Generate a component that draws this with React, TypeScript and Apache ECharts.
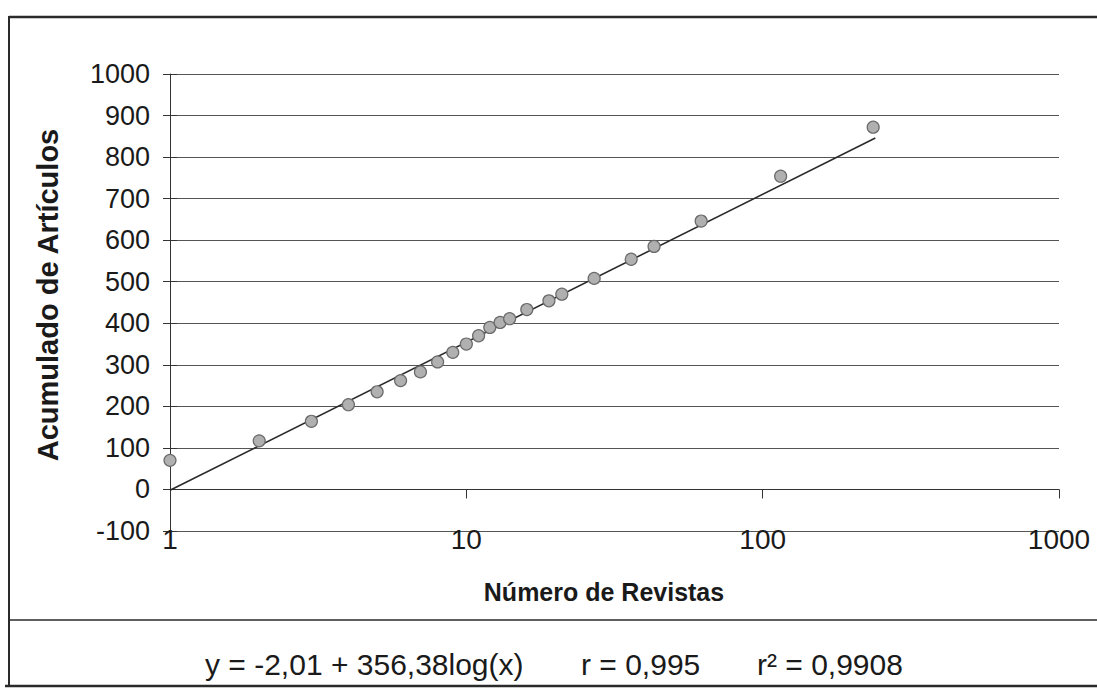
import React, { useEffect, useRef } from "react";
import * as echarts from "echarts";

const revistas = [1, 2, 3, 4, 5, 6, 7, 8, 9, 10, 11, 12, 13, 14, 16, 19, 21, 27, 36, 43, 62, 115, 236];
const articulos = [70, 117, 164, 204, 235, 262, 283, 307, 330, 350, 370, 390, 402, 411, 433, 454, 470, 508, 554, 585, 646, 754, 872];
const trendX = [1, 240];
const trendY = [-2, 846];
const yTicks = { min: -100, max: 1000, interval: 100 };
const xRange = { min: 1, max: 1000 };
const equationText = "y = -2,01 + 356,38log(x)";
const rText = "r = 0,995";
const r2Text = "r² = 0,9908";
const yTitle = "Acumulado de Artículos";
const xTitle = "Número de Revistas";

const FONT = "'Liberation Sans', Arial, sans-serif";

export default function App() {
  const ref = useRef<HTMLDivElement>(null);
  useEffect(() => {
    if (!ref.current) return;
    const chart = echarts.init(ref.current, undefined, { renderer: "svg" });
    const scatterData = revistas.map((x, i) => [x, articulos[i]]);
    const trendData = trendX.map((x, i) => [x, trendY[i]]);
    chart.setOption({
      animation: false,
      backgroundColor: "#ffffff",
      grid: { left: 170, right: 38, top: 74, bottom: 166 },
      xAxis: [
        {
          type: "log",
          logBase: 10,
          min: xRange.min,
          max: xRange.max,
          position: "bottom",
          axisLine: { show: false, onZero: false },
          axisTick: { show: false },
          splitLine: { show: false },
          minorTick: { show: false },
          axisLabel: {
            show: true,
            margin: -6,
            fontSize: 28,
            fontFamily: FONT,
            color: "#1a1a1a",
            formatter: (v: number) => String(Math.round(v)),
          },
        },
        {
          type: "log",
          logBase: 10,
          min: xRange.min,
          max: xRange.max,
          position: "top",
          axisLine: { show: true, onZero: true, onZeroAxisIndex: 0, lineStyle: { color: "#333", width: 1 } },
          axisTick: { show: true, inside: true, length: 9, lineStyle: { color: "#333", width: 1 } },
          axisLabel: { show: false },
          splitLine: { show: false },
        },
      ],
      yAxis: [
        {
          type: "value",
          min: yTicks.min,
          max: yTicks.max,
          interval: yTicks.interval,
          axisLine: { show: true, onZero: false, lineStyle: { color: "#333", width: 1 } },
          axisTick: { show: true, length: 7, lineStyle: { color: "#333" } },
          splitLine: { show: true, lineStyle: { color: "#555", width: 1 } },
          axisLabel: {
            margin: 20,
            fontSize: 27,
            fontFamily: FONT,
            color: "#1a1a1a",
            formatter: (v: number) => String(v),
          },
        },
        {
          type: "value",
          min: yTicks.min,
          max: yTicks.max,
          interval: yTicks.interval,
          position: "left",
          offset: 0,
          axisLine: { show: false, onZero: false },
          axisTick: { show: true, inside: true, length: 7, lineStyle: { color: "#333" } },
          splitLine: { show: false },
          axisLabel: { show: false },
        },
      ],
      series: [
        {
          type: "line",
          data: trendData,
          xAxisIndex: 0,
          yAxisIndex: 0,
          showSymbol: false,
          symbol: "none",
          lineStyle: { color: "#2a2a2a", width: 1.6 },
          z: 3,
        },
        {
          type: "scatter",
          data: scatterData,
          xAxisIndex: 0,
          yAxisIndex: 0,
          symbol: "circle",
          symbolSize: 12,
          itemStyle: { color: "#b0b0b0", borderColor: "#6a6a6a", borderWidth: 1.2, opacity: 1 },
          z: 4,
        },
      ],
      graphic: [
        {
          type: "text",
          x: 48,
          y: 295,
          rotation: Math.PI / 2,
          style: {
            text: yTitle,
            fontSize: 29,
            fontWeight: "bold",
            fontFamily: FONT,
            fill: "#1a1a1a",
            textAlign: "center",
            textVerticalAlign: "middle",
          },
        },
        {
          type: "text",
          x: 604,
          y: 592,
          style: {
            text: xTitle,
            fontSize: 25,
            fontWeight: "bold",
            fontFamily: FONT,
            fill: "#1a1a1a",
            textAlign: "center",
            textVerticalAlign: "middle",
          },
        },
        {
          type: "text",
          x: 205,
          y: 664,
          style: { text: equationText, fontSize: 30, fontFamily: FONT, fill: "#1a1a1a", textVerticalAlign: "middle" },
        },
        {
          type: "text",
          x: 581,
          y: 664,
          style: { text: rText, fontSize: 30, fontFamily: FONT, fill: "#1a1a1a", textVerticalAlign: "middle" },
        },
        {
          type: "text",
          x: 757,
          y: 664,
          style: { text: r2Text, fontSize: 30, fontFamily: FONT, fill: "#1a1a1a", textVerticalAlign: "middle" },
        },
        { type: "line", shape: { x1: 9, y1: 17, x2: 1097, y2: 17 }, style: { stroke: "#2a2a2a", lineWidth: 2.5 } },
        { type: "line", shape: { x1: 9, y1: 16, x2: 9, y2: 686 }, style: { stroke: "#2a2a2a", lineWidth: 2 } },
        { type: "line", shape: { x1: 9, y1: 620, x2: 1097, y2: 620 }, style: { stroke: "#2a2a2a", lineWidth: 1.5 } },
        { type: "line", shape: { x1: 5, y1: 686, x2: 1097, y2: 686 }, style: { stroke: "#2a2a2a", lineWidth: 2.5 } },
      ],
    });
    return () => chart.dispose();
  }, []);
  return (
    <div
      ref={ref}
      style={{ position: "fixed", left: 0, top: 0, width: 1097, height: 697, background: "#fff" }}
    />
  );
}
